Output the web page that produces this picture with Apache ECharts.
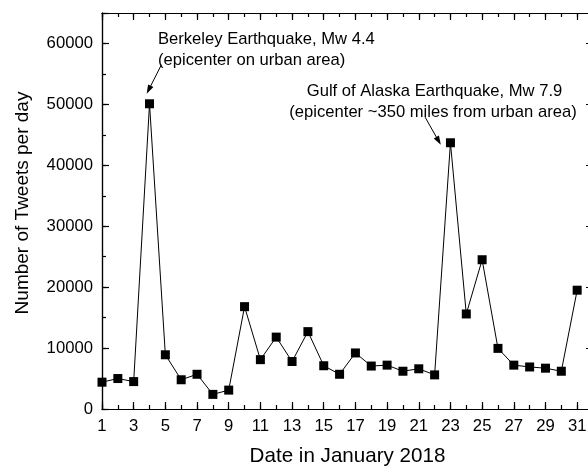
<!DOCTYPE html>
<html>
<head>
<meta charset="utf-8">
<script src="https://cdn.jsdelivr.net/npm/echarts@6/dist/echarts.min.js"></script>
<style>
  html, body { margin: 0; padding: 0; background: #fff; }
  #chart { width: 588px; height: 467px; }
</style>
</head>
<body>
<div id="chart"></div>
<script>
// Daily tweet counts, January 2018
const days = [1, 2, 3, 4, 5, 6, 7, 8, 9, 10, 11, 12, 13, 14, 15, 16,
              17, 18, 19, 20, 21, 22, 23, 24, 25, 26, 27, 28, 29, 30, 31];
const tweets = [4400, 5000, 4500, 50100, 8900, 4800, 5700, 2400, 3100, 16800,
                8100, 11800, 7800, 12700, 7100, 5700, 9200, 7050, 7200, 6200,
                6600, 5600, 43700, 15600, 24500, 9950, 7200, 6900, 6700, 6200, 19500];

// Axis extents and tick steps
const dayRange = [1, 32];
const dayLabelStep = 2;
const countRange = [0, 65000];
const countLabelStep = 10000;
const countMinorStep = 5000;

// Annotations: text lines and arrows (arrow ends in [day, count])
const berkeleyText = ['Berkeley Earthquake, Mw 4.4', '(epicenter on urban area)'];
const alaskaText = ['Gulf of Alaska Earthquake, Mw 7.9', '(epicenter ~350 miles from urban area)'];
const berkeleyArrow = [[4.75, 56500], [3.95, 52400]];
const alaskaArrow = [[21.4, 47900], [22.25, 44000]];

// Days are placed relative to the first day so that odd days land on the major ticks
const DAY0 = dayRange[0];
const toX = d => d - DAY0;

const FONT = "'Liberation Sans', Arial, Helvetica, sans-serif";
const INK = '#000';
const AXIS_W = 1.2;
const TICK_FONT = 16.7;

function xAxisDef(position, interval, tickLen, withLabels) {
  return {
    type: 'value',
    position,
    min: 0,
    max: toX(dayRange[1]),
    interval,
    axisLine: { show: true, onZero: false, lineStyle: { color: INK, width: AXIS_W } },
    axisTick: { show: true, inside: true, length: tickLen, lineStyle: { color: INK, width: AXIS_W } },
    axisLabel: {
      show: withLabels, margin: 9, color: INK, fontSize: TICK_FONT, fontFamily: FONT,
      formatter: v => (v % dayLabelStep === 0 && v <= toX(days[days.length - 1])) ? String(v + DAY0) : ''
    },
    splitLine: { show: false },
    minorTick: { show: false }
  };
}

function yAxisDef(position, interval, tickLen, withLabels) {
  return {
    type: 'value',
    position,
    min: countRange[0],
    max: countRange[1],
    interval,
    axisLine: { show: true, onZero: false, lineStyle: { color: INK, width: AXIS_W } },
    axisTick: { show: true, inside: true, length: tickLen, lineStyle: { color: INK, width: AXIS_W } },
    axisLabel: {
      show: withLabels, margin: 9, color: INK, fontSize: TICK_FONT, fontFamily: FONT,
      formatter: v => (v < countRange[1]) ? String(v) : ''
    },
    splitLine: { show: false },
    minorTick: { show: false }
  };
}

const xBottom = xAxisDef('bottom', dayLabelStep, 7, true);
xBottom.name = 'Date in January 2018';
xBottom.nameLocation = 'middle';
xBottom.nameGap = 37;
xBottom.nameTextStyle = { color: INK, fontSize: 20.6, fontFamily: FONT };

const yLeft = yAxisDef('left', countLabelStep, 7, true);
yLeft.name = 'Number of Tweets per day';
yLeft.nameLocation = 'middle';
yLeft.nameGap = 70;
yLeft.nameTextStyle = { color: INK, fontSize: 19, fontFamily: FONT, padding: [0, 0, 0, 16] };

const arrowLine = (pts) => [
  { coord: [toX(pts[0][0]), pts[0][1]] },
  { coord: [toX(pts[1][0]), pts[1][1]] }
];

const textStyleBase = { fill: INK, fontSize: 16.6, fontFamily: FONT, verticalAlign: 'middle' };

const option = {
  animation: false,
  backgroundColor: '#fff',
  grid: { left: 102, top: 13, width: 491, height: 396, containLabel: false, outerBoundsMode: 'none' },
  xAxis: [
    xBottom,
    xAxisDef('bottom', 1, 4, false),
    xAxisDef('top', dayLabelStep, 7, false),
    xAxisDef('top', 1, 4, false)
  ],
  yAxis: [
    yLeft,
    yAxisDef('left', countMinorStep, 4, false),
    yAxisDef('right', countLabelStep, 7, false)
  ],
  graphic: [
    { type: 'text', style: Object.assign({ x: 158, y: 39, text: berkeleyText[0], align: 'left' }, textStyleBase) },
    { type: 'text', style: Object.assign({ x: 158, y: 60, text: berkeleyText[1], align: 'left' }, textStyleBase) },
    { type: 'text', style: Object.assign({ x: 434.5, y: 91.5, text: alaskaText[0], align: 'center' }, textStyleBase) },
    { type: 'text', style: Object.assign({ x: 433, y: 112.5, text: alaskaText[1], align: 'center' }, textStyleBase) }
  ],
  series: [{
    type: 'line',
    xAxisIndex: 0,
    yAxisIndex: 0,
    data: days.map((d, i) => [toX(d), tweets[i]]),
    symbol: 'rect',
    symbolSize: 9,
    showAllSymbol: true,
    itemStyle: { color: INK },
    lineStyle: { color: INK, width: 1 },
    z: 3,
    markLine: {
      silent: true,
      symbol: ['none', 'triangle'],
      symbolSize: [6, 9],
      label: { show: false },
      lineStyle: { color: INK, width: 1, type: 'solid' },
      emphasis: { disabled: true },
      data: [arrowLine(berkeleyArrow), arrowLine(alaskaArrow)]
    }
  }]
};

const chart = echarts.init(document.getElementById('chart'), null, { renderer: 'canvas' });
chart.setOption(option);
</script>
</body>
</html>
